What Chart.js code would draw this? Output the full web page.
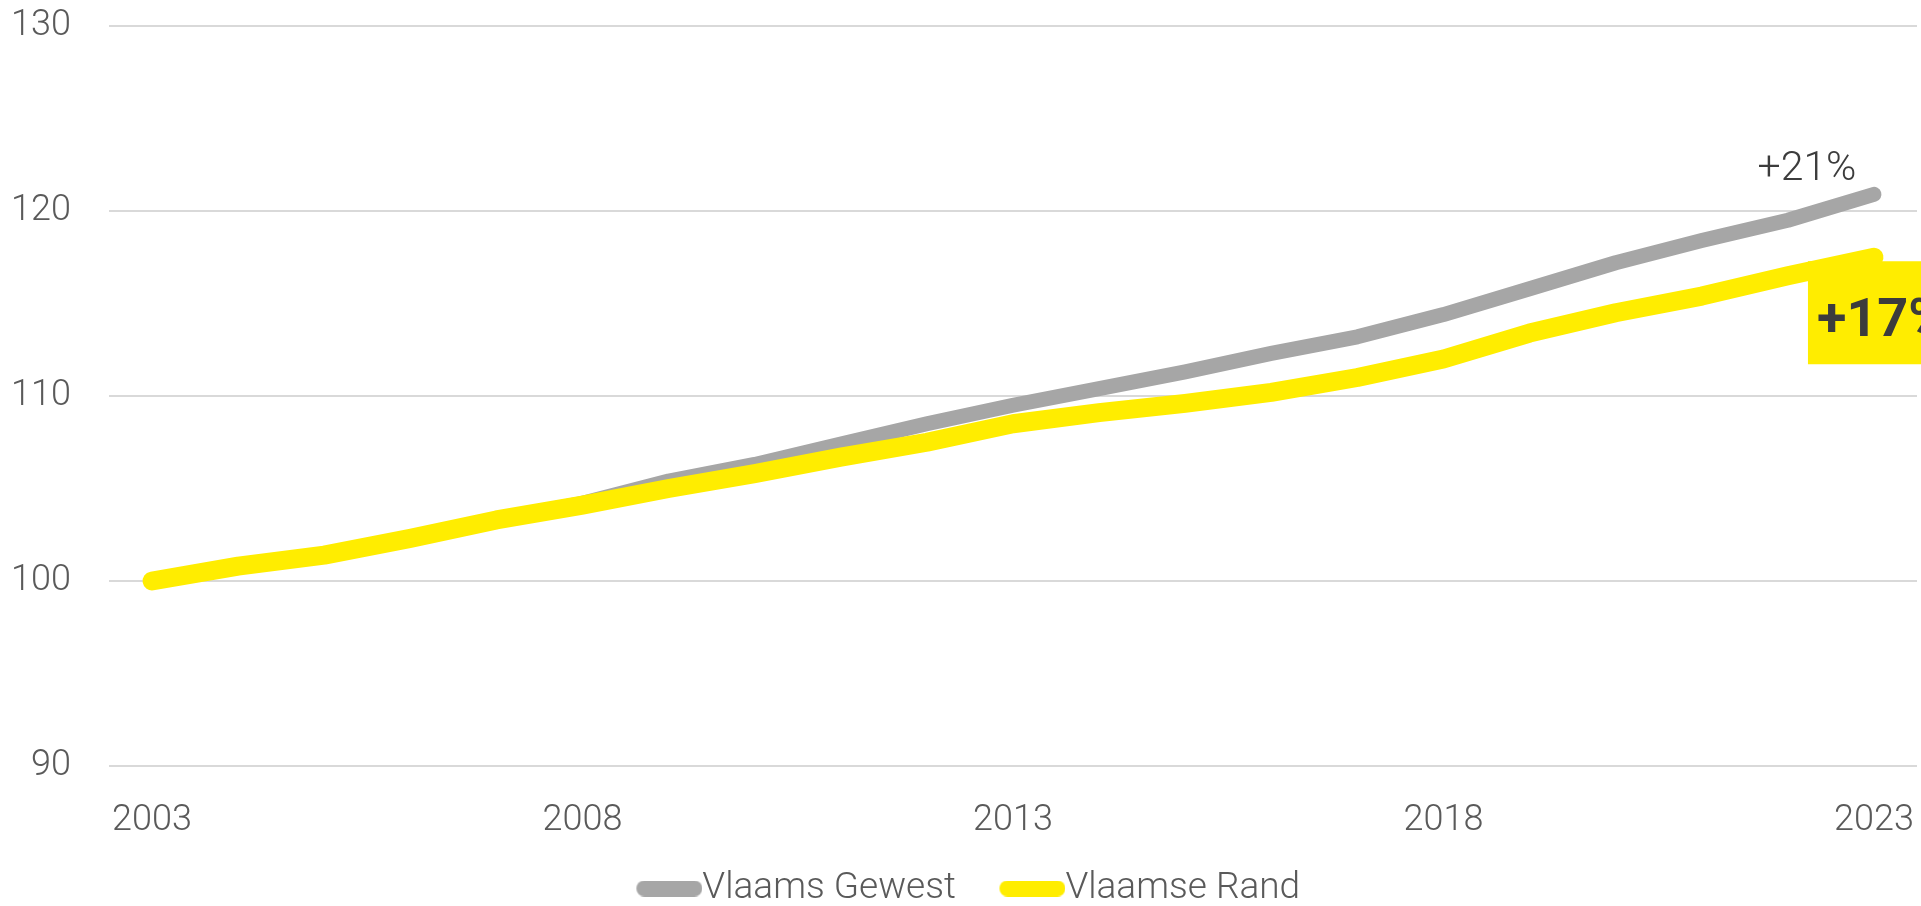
<!DOCTYPE html>
<html>
<head>
<meta charset="utf-8">
<script src="https://cdn.jsdelivr.net/npm/chart.js@4.4.1/dist/chart.umd.min.js"></script>
<style>
  html, body { margin: 0; padding: 0; background: #fff; }
  #wrap { width: 1921px; height: 906px; position: relative; }
</style>
</head>
<body>
<div id="wrap"><canvas id="lineChart"></canvas></div>
<script>
const years = [2003, 2004, 2005, 2006, 2007, 2008, 2009, 2010, 2011, 2012, 2013,
  2014, 2015, 2016, 2017, 2018, 2019, 2020, 2021, 2022, 2023];
const vlaamsGewest = [100, 100.8, 101.4, 102.3, 103.3, 104.2, 105.4, 106.3, 107.4, 108.5, 109.5,
  110.4, 111.3, 112.3, 113.2, 114.4, 115.8, 117.2, 118.4, 119.5, 120.9];
const vlaamseRand = [100, 100.8, 101.4, 102.3, 103.3, 104.1, 105.0, 105.8, 106.7, 107.5, 108.5,
  109.1, 109.6, 110.2, 111.0, 112.0, 113.4, 114.5, 115.4, 116.5, 117.5];
const xTickYears = [2003, 2008, 2013, 2018, 2023];
const yTicks = [90, 100, 110, 120, 130];
const endLabels = ['+21%', '+17%'];

const grey = '#a6a6a6';
const yellow = '#ffed00';
const textColor = '#5a5a5a';
const fontFamily = 'Roboto, "Open Sans", sans-serif';

// legend marker: a rounded bar, with empty room on its left so the
// legend items sit further apart while the bar still touches its text
function pill(color) {
  const c = document.createElement('canvas');
  c.width = 104;
  c.height = 16;
  const g = c.getContext('2d');
  g.fillStyle = color;
  g.beginPath();
  g.arc(46, 8, 8, Math.PI / 2, Math.PI * 1.5);
  g.lineTo(96, 0);
  g.arc(96, 8, 8, -Math.PI / 2, Math.PI / 2);
  g.closePath();
  g.fill();
  return c;
}

const endLabelPlugin = {
  id: 'endLabels',
  afterDatasetsDraw(chart) {
    const ctx = chart.ctx;
    const g = chart.getDatasetMeta(0).data[years.length - 1];
    const r = chart.getDatasetMeta(1).data[years.length - 1];
    ctx.save();
    ctx.fillStyle = '#3c3c3c';
    ctx.font = '300 41px ' + fontFamily;
    ctx.textAlign = 'center';
    ctx.textBaseline = 'alphabetic';
    ctx.fillText(endLabels[0], g.x - 67, g.y - 14);

    ctx.fillStyle = yellow;
    ctx.fillRect(r.x - 66, r.y + 4, 200, 103);
    ctx.fillStyle = '#3c3c3c';
    ctx.font = '700 54px ' + fontFamily;
    ctx.textAlign = 'left';
    ctx.fillText(endLabels[1], r.x - 57, r.y + 79);
    ctx.restore();
  }
};

const ctx = document.getElementById('lineChart').getContext('2d');

const lineChart = new Chart(ctx, {
  type: 'line',
  data: {
    labels: years,
    datasets: [{
      label: 'Vlaams Gewest',
      data: vlaamsGewest,
      borderColor: grey,
      backgroundColor: grey,
      borderWidth: 15,
      order: 1,
      pointStyle: pill(grey)
    }, {
      label: 'Vlaamse Rand',
      data: vlaamseRand,
      borderColor: yellow,
      backgroundColor: yellow,
      borderWidth: 19,
      order: 0,
      pointStyle: pill(yellow)
    }]
  },
  options: {
    responsive: true,
    maintainAspectRatio: false,
    animation: false,
    elements: {
      line: { tension: 0, borderCapStyle: 'round', borderJoinStyle: 'round' },
      point: { radius: 0, hoverRadius: 0 }
    },
    layout: { padding: { top: 26, right: 4, bottom: -11, left: 0 } },
    plugins: {
      tooltip: { enabled: false },
      legend: {
        position: 'bottom',
        labels: {
          usePointStyle: true,
          pointStyleWidth: 67,
          padding: 24,
          color: textColor,
          font: { family: fontFamily, size: 37, weight: '300' },
          sort: (a, b) => a.datasetIndex - b.datasetIndex
        }
      }
    },
    scales: {
      x: {
        offset: true,
        // invisible tick marks keep the labels away from the plot
        grid: { display: true, drawOnChartArea: false, drawTicks: true, tickLength: 33, color: 'rgba(0,0,0,0)', tickColor: 'rgba(0,0,0,0)' },
        border: { display: false },
        ticks: {
          autoSkip: false,
          maxRotation: 0,
          padding: 0,
          color: textColor,
          font: { family: fontFamily, size: 36, weight: '300' },
          callback: (v, i) => xTickYears.includes(years[i]) ? String(years[i]) : ''
        },
        afterFit: s => { s.height = 80; }
      },
      y: {
        min: 90,
        max: 130,
        grid: { color: '#d9d9d9', lineWidth: 2, drawTicks: true, tickLength: 38, tickColor: 'rgba(0,0,0,0)' },
        border: { display: false },
        ticks: {
          padding: 0,
          color: textColor,
          font: { family: fontFamily, size: 36, weight: '300' }
        },
        afterBuildTicks: s => { s.ticks = yTicks.map(v => ({ value: v })); },
        afterFit: s => { s.width = 109; }
      }
    }
  },
  plugins: [endLabelPlugin]
});
</script>
</body>
</html>
